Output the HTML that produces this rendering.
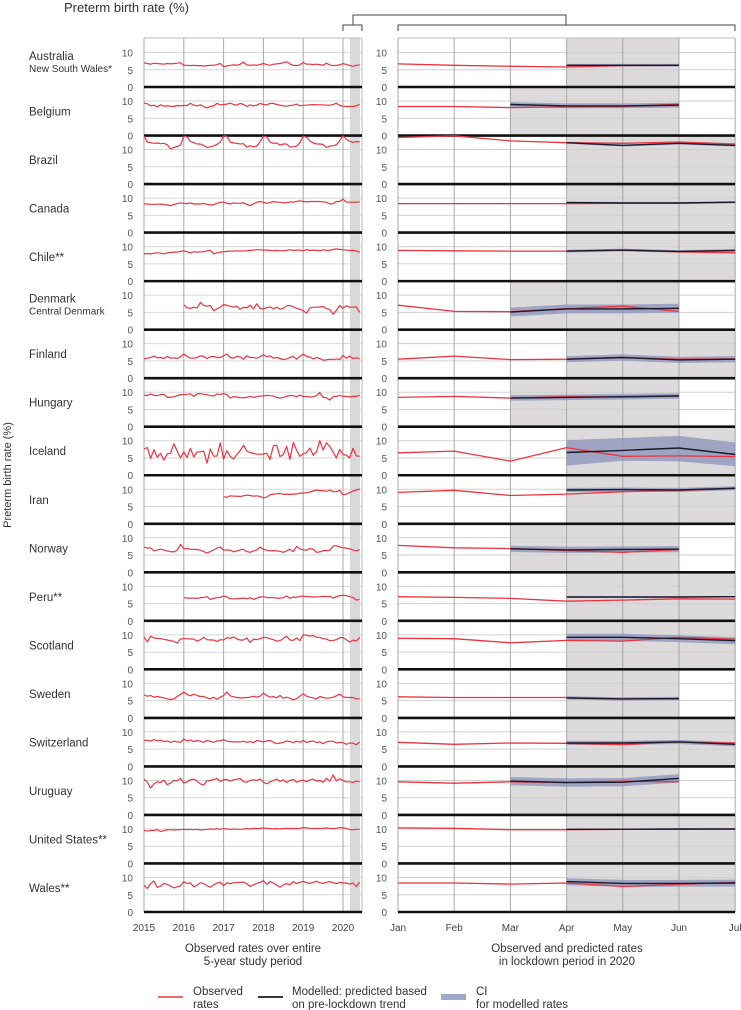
<!DOCTYPE html>
<html><head><meta charset="utf-8">
<style>
html,body{margin:0;padding:0;background:#fff;}
svg{display:block;font-family:"Liberation Sans",sans-serif;}
</style></head>
<body>
<svg id="chart" width="741" height="1010" viewBox="0 0 741 1010" xmlns="http://www.w3.org/2000/svg"></svg>
<script>
const countries=["Australia","Belgium","Brazil","Canada","Chile**","Denmark","Finland","Hungary","Iceland","Iran","Norway","Peru**","Scotland","Sweden","Switzerland","Uruguay","United States**","Wales**"];
const subLabels=["New South Wales*","","","","","Central Denmark","","","","","","","","","","","",""];
const leftStart=[0,0,0,0,0,12,0,0,0,24,0,12,0,0,0,0,0,0];
const yearTicks=["2015","2016","2017","2018","2019","2020"];
const monthTicks=["Jan","Feb","Mar","Apr","May","Jun","Jul"];
const yTicks=[0,5,10];
const leftValues=[
[7.0,6.8,6.6,6.9,6.8,6.7,6.6,6.8,6.7,6.8,6.9,7.0,6.3,6.3,6.2,6.3,6.2,6.2,6.1,6.2,6.3,6.3,6.5,6.8,5.9,6.1,6.3,6.4,6.3,6.6,7.2,6.4,6.3,6.4,6.3,6.5,6.8,6.5,6.3,6.6,6.7,6.8,7.0,7.3,6.7,6.3,6.2,6.4,7.1,6.6,6.6,6.5,6.6,6.5,6.3,6.9,6.4,6.2,6.3,6.4,6.8,6.5,6.2,6.0,6.3,6.4],
[9.4,9.2,8.6,8.8,8.3,8.9,8.5,8.6,8.5,8.4,8.7,8.6,8.7,8.7,9.3,8.8,8.6,8.9,8.4,8.0,8.4,8.6,9.3,8.9,9.0,9.1,9.4,9.0,8.8,9.3,9.0,8.4,8.9,8.6,8.8,9.3,9.0,8.9,9.3,9.3,9.0,8.8,8.6,8.5,8.7,8.8,9.1,8.6,8.8,8.8,8.9,9.0,8.9,8.9,8.9,8.8,8.8,9.0,9.4,8.7,8.5,8.4,8.4,8.4,8.6,9.1],
[13.9,12.2,12.0,11.8,11.9,11.7,11.8,11.4,10.2,10.6,10.9,11.3,13.9,13.7,12.3,12.0,11.6,11.6,11.2,10.6,10.8,11.1,11.5,12.2,14.0,13.9,12.2,11.9,11.8,11.6,11.7,10.7,11.1,10.8,11.0,12.3,13.9,13.7,12.2,11.8,11.9,11.3,11.6,11.6,10.7,10.8,11.0,12.0,13.9,13.6,12.5,11.9,11.6,11.6,11.5,10.6,11.0,11.1,11.4,12.6,14.0,13.0,12.4,12.1,12.3,12.2],
[8.3,8.3,8.2,8.2,8.2,8.3,8.1,8.0,7.8,8.1,8.4,8.6,8.5,8.4,8.6,8.3,8.3,8.3,8.4,8.2,8.0,8.1,8.5,8.8,8.8,8.5,8.3,8.6,8.5,8.5,8.6,8.2,7.8,8.3,8.8,9.0,8.8,8.5,8.7,9.0,8.8,8.8,8.6,8.7,8.9,8.8,9.0,9.2,9.0,8.9,9.0,9.0,9.0,9.0,8.9,8.8,8.3,8.4,9.0,9.0,9.7,8.8,8.8,8.8,8.8,8.9],
[7.9,8.0,7.9,8.1,8.2,8.1,7.9,8.2,8.3,8.4,8.4,8.6,8.8,8.5,8.2,8.5,8.4,8.5,8.5,8.8,8.9,7.9,8.2,8.4,8.5,8.6,8.7,8.7,8.8,8.7,8.8,8.8,8.9,9.0,9.1,9.1,9.0,9.0,8.9,8.8,8.9,8.8,8.8,8.9,9.1,8.9,9.0,9.0,8.8,9.1,8.9,9.0,8.9,8.8,9.1,8.9,8.9,9.2,9.3,9.2,9.1,9.0,8.9,8.9,8.8,8.4],
[7.2,6.3,6.2,6.5,6.3,7.9,7.0,6.8,7.0,5.5,6.0,6.5,7.3,7.0,6.8,6.5,6.8,5.9,6.5,6.3,7.1,6.0,7.5,6.1,6.0,6.4,6.6,6.0,6.5,5.9,6.2,6.9,7.0,6.6,6.2,5.9,5.5,4.8,6.3,6.5,6.5,6.6,6.7,6.1,5.8,4.5,5.6,7.0,6.2,6.9,6.5,6.5,6.6,5.0],
[5.6,5.8,6.0,6.4,5.9,6.0,5.7,6.3,5.8,5.9,5.7,6.2,7.0,6.3,5.8,5.8,6.0,6.5,6.3,5.7,6.2,6.3,6.0,6.0,6.5,7.0,6.0,5.8,6.3,6.2,5.5,6.5,6.0,6.0,5.8,6.2,6.8,6.2,6.5,5.8,6.0,5.7,5.4,5.6,6.0,6.3,5.5,6.3,7.0,6.3,6.1,5.6,6.0,5.7,5.2,5.3,5.5,5.4,5.6,5.4,6.6,5.8,6.4,5.7,5.9,5.6],
[9.2,9.0,9.5,9.1,9.0,9.3,9.4,8.5,8.5,8.7,9.0,9.3,9.3,9.4,9.5,8.8,9.5,9.6,9.4,9.3,9.0,8.9,9.5,9.3,9.6,9.3,8.3,8.7,8.6,8.4,8.4,8.5,8.8,8.5,8.7,8.9,8.9,9.1,9.0,8.9,8.5,8.3,8.5,8.8,9.1,9.0,8.7,9.2,8.7,8.8,8.6,8.7,9.0,9.9,8.5,8.4,7.7,8.7,8.8,9.1,8.8,8.8,8.6,8.8,8.8,9.1],
[7.6,8.0,4.9,7.4,5.2,6.4,4.4,6.2,6.4,9.1,7.0,5.0,6.8,5.1,7.8,5.3,6.8,6.8,7.0,3.5,7.6,5.5,5.6,9.4,4.7,7.1,5.5,4.7,6.0,7.1,8.7,7.0,6.6,6.3,6.1,6.1,6.1,6.4,4.6,8.6,8.7,5.4,6.0,8.4,4.6,9.5,7.3,5.5,6.2,6.6,7.9,5.8,6.8,10.0,7.3,9.4,8.3,6.7,5.0,7.5,6.0,5.8,5.0,7.8,5.6,5.5],
[7.8,7.7,8.1,8.0,8.0,7.9,8.1,8.3,8.2,8.0,8.1,7.9,7.5,7.7,8.4,8.6,8.7,8.8,8.5,8.6,8.5,8.6,8.6,8.9,8.9,9.0,9.2,9.5,9.8,9.6,9.6,9.4,9.8,9.3,9.3,9.7,8.4,8.6,9.0,9.5,9.8,10.1],
[7.3,7.0,7.1,6.2,6.5,6.7,6.5,6.2,6.0,5.9,6.4,8.1,6.8,6.9,6.7,6.6,6.6,6.4,6.0,5.6,6.0,6.5,7.0,7.3,6.4,6.5,6.4,5.9,6.2,6.5,6.7,6.0,5.8,6.2,6.5,7.3,6.6,6.4,6.2,6.3,6.2,6.1,5.8,6.2,6.7,6.0,7.5,6.8,6.5,6.4,6.9,6.7,5.8,5.9,6.3,6.3,6.4,7.6,7.7,7.3,7.1,7.0,6.8,6.5,6.2,6.6],
[6.7,6.6,6.6,6.6,6.5,6.7,6.8,7.0,6.2,6.5,6.7,6.8,7.2,6.9,6.4,6.4,6.4,6.5,6.6,6.4,6.7,6.2,6.6,6.9,7.0,6.8,6.7,6.7,6.6,6.6,6.7,7.2,6.5,6.9,6.8,7.1,7.2,7.0,7.0,6.9,6.9,7.0,7.1,7.0,7.1,6.6,7.0,7.3,7.4,7.3,7.0,6.8,6.0,6.2],
[9.4,8.0,9.6,9.1,9.0,8.9,8.7,8.5,8.3,8.1,7.6,8.8,8.9,8.9,8.8,8.8,8.2,8.6,9.3,8.6,8.5,8.5,8.1,8.6,8.5,9.2,9.0,9.4,8.8,8.5,8.5,9.1,7.8,8.8,8.6,8.9,9.3,9.2,8.9,8.6,8.2,8.3,9.0,9.6,8.5,8.4,9.1,8.3,10.0,9.9,9.6,9.8,9.3,9.3,8.9,8.8,8.3,8.4,8.6,9.2,9.2,8.6,7.9,8.5,8.2,9.3],
[6.6,6.3,6.5,6.0,6.2,6.0,5.8,5.5,5.3,5.5,6.2,6.8,7.5,6.8,6.4,6.9,6.5,6.2,6.2,5.8,5.5,6.0,5.4,6.0,6.5,7.5,6.4,6.1,5.9,5.8,5.8,5.9,6.0,6.3,6.0,6.3,7.2,6.5,6.0,6.2,5.8,6.5,5.7,6.0,5.7,5.2,5.6,6.3,7.0,6.3,6.0,5.8,5.5,6.2,5.9,5.7,5.8,6.0,6.4,6.9,6.1,5.9,5.9,5.9,5.5,5.5],
[7.5,7.6,7.3,7.8,7.4,7.6,7.2,7.4,7.0,7.3,7.1,7.0,7.9,7.4,7.7,7.2,7.5,7.3,7.0,7.5,7.3,7.0,7.4,7.4,7.8,7.3,7.2,7.1,7.1,7.1,7.3,7.0,7.2,6.9,7.5,7.3,7.1,7.4,7.5,7.0,6.6,6.8,7.0,7.4,7.2,6.9,7.3,7.0,7.5,7.0,7.2,7.4,6.9,7.1,6.6,7.1,7.3,7.3,6.8,7.0,6.9,6.4,6.8,6.7,6.3,7.1],
[10.4,9.5,7.8,9.0,9.6,9.4,10.1,8.8,9.2,10.0,9.9,10.6,9.2,9.6,10.2,10.4,9.8,9.0,8.7,9.9,10.0,10.3,10.6,9.7,10.2,10.3,9.8,10.2,10.4,10.6,9.6,9.5,10.0,10.2,10.0,10.4,9.5,9.0,9.6,10.0,10.4,9.7,10.2,9.4,10.0,10.3,9.5,9.8,10.1,9.6,10.2,10.4,9.8,10.0,9.5,10.6,9.8,11.6,9.9,10.5,10.0,9.6,9.6,9.4,9.8,9.6],
[9.6,9.4,9.6,9.6,9.8,9.3,9.5,9.8,9.8,9.7,9.8,9.8,9.9,9.8,9.9,9.8,9.9,9.7,9.8,9.9,10.0,9.9,10.1,9.9,10.1,10.0,9.9,10.0,9.9,9.9,10.0,10.1,10.0,10.2,10.1,10.2,10.3,10.2,10.1,10.0,10.1,10.0,10.1,10.2,10.1,10.2,10.1,10.2,10.4,10.3,10.2,10.2,10.1,10.2,10.2,10.3,10.2,10.1,10.2,10.4,10.3,10.2,9.8,9.8,9.9,9.9],
[7.8,6.8,8.2,9.0,7.1,7.5,8.3,8.0,7.5,7.0,7.3,7.6,8.8,8.3,8.4,7.3,7.8,8.5,8.2,7.6,7.2,7.9,8.4,8.6,7.6,8.5,8.2,8.5,8.5,8.6,8.7,8.2,7.4,7.9,8.3,8.6,9.1,8.0,8.8,8.4,7.8,7.2,7.9,8.2,7.9,8.8,8.2,8.6,8.9,8.5,8.3,8.6,8.9,8.5,8.3,8.6,8.8,8.5,8.2,8.6,8.4,8.4,8.1,8.4,7.4,8.6]
];
const rightObserved=[
[6.7,6.3,6.0,5.8,6.2,6.3],
[8.4,8.4,8.1,8.3,8.4,9.1],
[13.5,14.0,12.5,12.0,11.8,12.2,11.6],
[8.4,8.4,8.4,8.4,8.5,8.5,8.8],
[8.9,8.8,8.7,8.7,9.0,8.5,8.2],
[7.1,5.3,5.2,6.1,6.8,5.3],
[5.5,6.4,5.4,5.5,6.0,5.5,5.6],
[8.5,8.8,8.3,8.7,8.6,9.0],
[6.5,7.0,4.1,8.0,5.5,5.6,5.4],
[9.1,9.7,8.2,8.6,9.3,9.7,10.2],
[7.8,7.1,6.9,6.3,5.8,6.6],
[7.0,6.8,6.5,5.7,6.0,6.4,6.3],
[9.0,8.9,7.7,8.4,8.2,9.3,8.7],
[6.1,5.9,5.9,5.9,5.5,5.5],
[7.0,6.4,6.8,6.7,6.3,7.1,6.8],
[9.6,9.2,9.6,9.4,9.8,9.6],
[10.3,10.2,9.8,9.8,9.9,9.9,10.0],
[8.4,8.4,8.1,8.4,7.4,8.0,8.6]
];
const lockdownStart=[3,2,3,3,3,2,3,2,3,3,2,3,3,3,3,2,3,3];
const lockdownEnd=[5,5,6,6,6,5,6,5,6,6,5,6,6,5,6,5,6,6];
const modelled=[
[6.3,6.3,6.3],[9.0,8.6,8.6,8.8],[12.0,11.2,11.8,11.2],[8.7,8.6,8.6,8.8],[8.7,9.0,8.6,8.9],
[5.1,6.0,6.0,6.2],[5.5,6.0,5.3,5.5],[8.3,8.5,8.7,8.9],[6.6,7.2,7.9,6.0],[9.8,9.9,9.8,10.3],
[6.8,6.5,6.6,6.7],[6.9,6.9,6.9,7.0],[9.3,9.3,8.9,8.3],[5.8,5.5,5.6],[6.8,6.8,7.1,6.4],
[9.8,9.4,9.5,10.6],[9.9,9.9,10.0,10.0],[8.8,8.3,8.3,8.4]
];
const ciLow=[
[5.9,5.9,5.9],[8.3,7.9,7.9,8.1],[11.7,10.9,11.5,10.9],[8.4,8.3,8.3,8.5],[8.3,8.6,8.2,8.5],
[3.8,4.7,4.7,4.9],[4.6,5.1,4.4,4.6],[7.5,7.7,7.9,8.1],[2.8,4.2,4.0,2.6],[9.2,9.3,9.2,9.7],
[5.9,5.6,5.7,5.8],[6.7,6.7,6.7,6.8],[8.3,8.3,7.9,7.3],[5.3,5.0,5.1],[6.2,6.2,6.5,5.8],
[8.6,8.2,8.3,9.4],[9.7,9.7,9.8,9.8],[7.8,7.3,7.3,7.4]
];
const ciHigh=[
[6.7,6.7,6.7],[9.7,9.3,9.3,9.5],[12.3,11.5,12.1,11.5],[9.0,8.9,8.9,9.1],[9.1,9.4,9.0,9.3],
[6.4,7.3,7.3,7.5],[6.4,6.9,6.2,6.4],[9.1,9.3,9.5,9.7],[10.2,10.8,11.4,9.5],[10.4,10.5,10.4,10.9],
[7.7,7.4,7.5,7.6],[7.1,7.1,7.1,7.2],[10.3,10.3,9.9,9.3],[6.3,6.0,6.1],[7.4,7.4,7.7,7.0],
[11.0,10.6,10.7,11.8],[10.1,10.1,10.2,10.2],[9.8,9.3,9.3,9.4]
];

const NS="http://www.w3.org/2000/svg";
const svg=document.getElementById('chart');
const TOP=38, ZERO0=87, ROWH=48.53, PXU=3.45;
const LX0=144, LMONTH=3.317, LX1=362;
const RX0=398, RMONTH=56.2, RX1=735;
function zeroY(r){return ZERO0+ROWH*r;}
function yv(r,v){return zeroY(r)-v*PXU;}
function lx(m){return LX0+m*LMONTH;}
function rx(m){return RX0+m*RMONTH;}
function mk(tag,attrs,parent){const e=document.createElementNS(NS,tag);for(const k in attrs)e.setAttribute(k,attrs[k]);(parent||svg).appendChild(e);return e;}
function txt(x,y,s,size,anchor,fill,parent){const t=mk('text',{x:x,y:y,'font-size':size,'text-anchor':anchor||'start',fill:fill||'#333'},parent);t.textContent=s;return t;}

// title
let t=txt(64,12,"Preterm birth rate (%)",13,'start','#333');


// brackets
let br=mk('path',{d:"M343,31 V25 H362 V31 M353,25 V15 H566 V25 M398,31 V25 H735 V31",fill:"none",stroke:"#444","stroke-width":1});



// left gray band
let gb=mk('rect',{x:350,y:TOP,width:10,height:zeroY(17)-TOP,fill:"#d9d9d9"});



// right shading
for(let r=0;r<countries.length;r++){
  const s=mk('rect',{x:rx(lockdownStart[r]),y:zeroY(r)-ROWH,width:rx(lockdownEnd[r])-rx(lockdownStart[r]),height:ROWH,fill:"#dcdadb"});
  
  
}
// horizontal grid
for(let r=0;r<countries.length;r++){
  for(const v of [5,10]){
    mk('line',{x1:LX0,x2:LX1,y1:yv(r,v),y2:yv(r,v),stroke:"#d6d6d6","stroke-width":1});
    mk('line',{x1:RX0,x2:RX1,y1:yv(r,v),y2:yv(r,v),stroke:"#d0d0d0","stroke-width":1});
  }
}
// vertical grid
for(let i=0;i<yearTicks.length;i++){
  mk('line',{x1:lx(i*12),x2:lx(i*12),y1:TOP,y2:zeroY(17),stroke:"#a8a8a8","stroke-width":1});
}
mk('line',{x1:LX1,x2:LX1,y1:TOP,y2:zeroY(17),stroke:"#bbb","stroke-width":1});
for(let i=0;i<monthTicks.length;i++){
  mk('line',{x1:rx(i),x2:rx(i),y1:TOP,y2:zeroY(17),stroke:"#a8a8a8","stroke-width":1});
}
mk('line',{x1:LX0,x2:LX1,y1:TOP,y2:TOP,stroke:"#bbb","stroke-width":1});
mk('line',{x1:RX0,x2:RX1,y1:TOP,y2:TOP,stroke:"#bbb","stroke-width":1});

for(let r=0;r<countries.length;r++){
  const g=mk('g',{});
  
  
  // labels
  if(subLabels[r]){
    txt(29,zeroY(r)-27,countries[r],11.5,'start','#333',g);
    txt(29,zeroY(r)-15,subLabels[r],10,'start','#333',g);
  } else {
    txt(29,zeroY(r)-20,countries[r],11.5,'start','#333',g);
  }
  for(const v of yTicks){
    txt(133,yv(r,v)+4,String(v),10,'end','#555',g);
    txt(387,yv(r,v)+4,String(v),10,'end','#555',g);
  }
  // zero lines
  mk('line',{x1:LX0,x2:LX1,y1:zeroY(r),y2:zeroY(r),stroke:"#111","stroke-width":2.6},g);
  mk('line',{x1:RX0,x2:RX1,y1:zeroY(r),y2:zeroY(r),stroke:"#111","stroke-width":2.6},g);
  // left observed
  const lv=leftValues[r];
  let d=lv.map((v,i)=>(i?'L':'M')+lx(leftStart[r]+i).toFixed(1)+','+yv(r,v).toFixed(1)).join(' ');
  const lp=mk('path',{d:d,fill:"none",stroke:"#ec3340","stroke-width":1.2,"stroke-linejoin":"round"},g);
  
  
  // CI
  const s0=lockdownStart[r];
  const lo=ciLow[r],hi=ciHigh[r];
  let cd='M'+hi.map((v,i)=>rx(s0+i).toFixed(1)+','+yv(r,v).toFixed(1)).join(' L');
  for(let i=lo.length-1;i>=0;i--) cd+=' L'+rx(s0+i).toFixed(1)+','+yv(r,lo[i]).toFixed(1);
  cd+=' Z';
  const ci=mk('path',{d:cd,fill:"#8a91b8","fill-opacity":0.75},g);
  
  
  // observed right
  const ro=rightObserved[r];
  const od=ro.map((v,i)=>(i?'L':'M')+rx(i).toFixed(1)+','+yv(r,v).toFixed(1)).join(' ');
  const op=mk('path',{d:od,fill:"none",stroke:"#ec3340","stroke-width":1.3},g);
  
  
  // modelled
  const md=modelled[r].map((v,i)=>(i?'L':'M')+rx(s0+i).toFixed(1)+','+yv(r,v).toFixed(1)).join(' ');
  const mp=mk('path',{d:md,fill:"none",stroke:"#1a1a2a","stroke-width":1.4},g);
  
  
}
// x tick labels
for(let i=0;i<yearTicks.length;i++){
  const e=txt(lx(i*12),931,yearTicks[i],10,'middle','#444');
  
  
}
for(let i=0;i<monthTicks.length;i++){
  const e=txt(rx(i),931,monthTicks[i],10,'middle','#444');
  
  
}
// y axis title
let yt=txt(0,0,"Preterm birth rate (%)",11,'middle','#333');
yt.setAttribute('transform','translate(11,475) rotate(-90)');


// captions
let c1=txt(253,952,"Observed rates over entire",11.5,'middle','#333');


txt(253,965,"5-year study period",11.5,'middle','#333');
let c2=txt(567,952,"Observed and predicted rates",11.5,'middle','#333');


txt(567,965,"in lockdown period in 2020",11.5,'middle','#333');
// legend
const lg=mk('g',{});


mk('line',{x1:158,x2:183,y1:997,y2:997,stroke:"#ec3340","stroke-width":1.6},lg);
txt(193,995,"Observed",11.5,'start','#333',lg);
txt(193,1008,"rates",11.5,'start','#333',lg);
mk('line',{x1:258,x2:283,y1:997,y2:997,stroke:"#1a1a2a","stroke-width":1.8},lg);
txt(292,995,"Modelled: predicted based",11.5,'start','#333',lg);
txt(292,1008,"on pre-lockdown trend",11.5,'start','#333',lg);
mk('rect',{x:441,y:994,width:25,height:6,fill:"#8a91b8","fill-opacity":0.8},lg);
txt(476,995,"CI",11.5,'start','#333',lg);
txt(476,1008,"for modelled rates",11.5,'start','#333',lg);
</script>
</body></html>
